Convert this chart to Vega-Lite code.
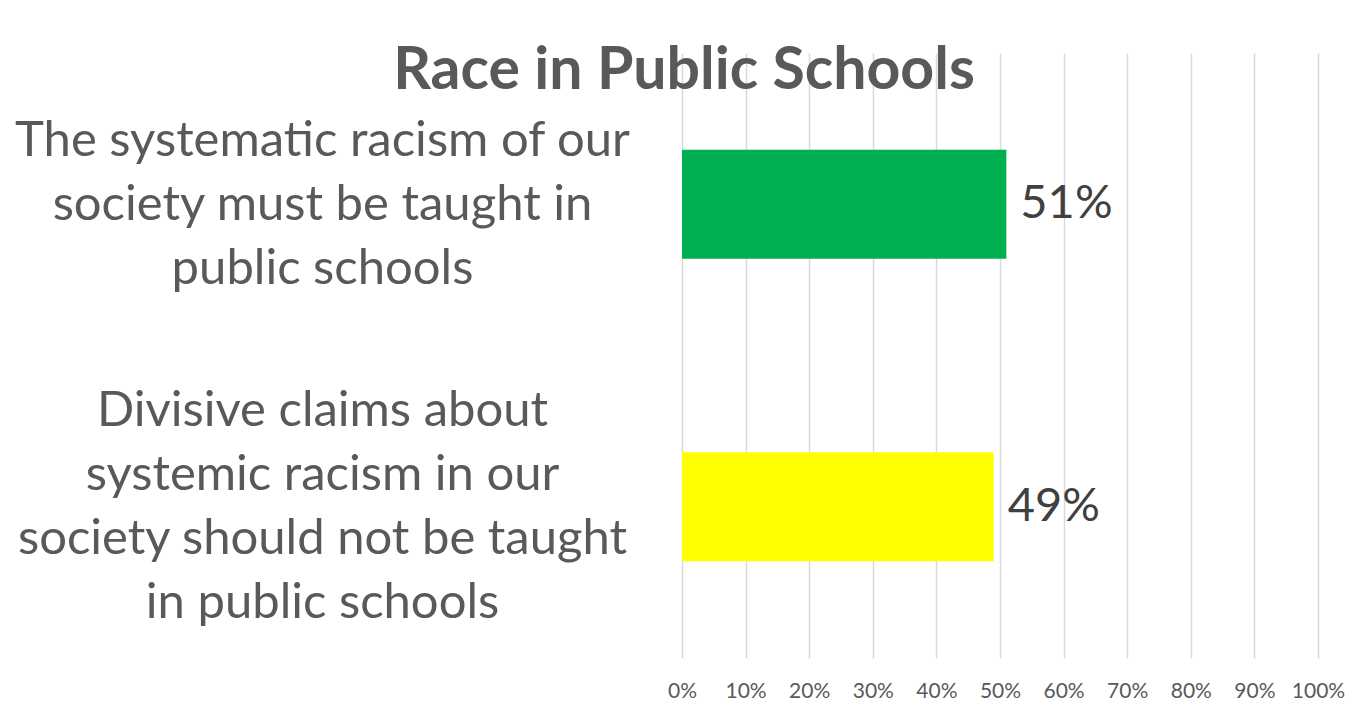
{
  "$schema": "https://vega.github.io/schema/vega-lite/v6.json",
  "autosize": {"type": "none"},
  "width": 636,
  "height": 605,
  "padding": {"left": 682, "top": 53, "right": 51, "bottom": 47},
  "background": "white",
  "config": {
    "view": {"stroke": null},
    "font": "Lato"
  },
  "title": {
    "text": "Race in Public Schools",
    "anchor": "middle",
    "frame": "group",
    "dx": -316,
    "dy": 63,
    "offset": -32,
    "baseline": "alphabetic",
    "font": "Lato",
    "fontSize": 59,
    "fontWeight": "bold",
    "color": "#595959"
  },
  "data": {
    "values": [
      {"label": "The systematic racism of our|society must be taught in|public schools", "value": 0.51, "color": "#00B050"},
      {"label": "Divisive claims about|systemic racism in our|society should not be taught|in public schools", "value": 0.49, "color": "#FFFF00"}
    ]
  },
  "encoding": {
    "y": {
      "field": "label",
      "type": "nominal",
      "sort": null,
      "scale": {"paddingInner": 0.64, "paddingOuter": 0.32},
      "axis": {
        "title": null,
        "domain": false,
        "ticks": false,
        "grid": false,
        "labelExpr": "split(datum.label, '|')",
        "labelAlign": "center",
        "labelBaseline": "middle",
        "labelOffset": {"condition": {"test": "substring(datum.value, 0, 3) == 'The'", "value": -63}, "value": -96},
        "labelPadding": 360,
        "labelLimit": 0,
        "labelFontSize": 49,
        "labelLineHeight": 64,
        "labelColor": "#595959",
        "labelFont": "Lato"
      }
    },
    "x": {
      "field": "value",
      "type": "quantitative",
      "scale": {"domain": [0, 1], "nice": false},
      "axis": {
        "title": null,
        "values": [0, 0.1, 0.2, 0.3, 0.4, 0.5, 0.6, 0.7, 0.8, 0.9, 1],
        "format": ".0%",
        "domain": false,
        "ticks": false,
        "grid": true,
        "gridColor": "#d9d9d9",
        "gridWidth": 1.5,
        "labelOverlap": false,
        "labelFlush": false,
        "labelFontSize": 21,
        "labelPadding": 22,
        "labelColor": "#595959",
        "labelFont": "Lato"
      }
    }
  },
  "layer": [
    {
      "mark": {"type": "bar"},
      "encoding": {
        "color": {"field": "color", "type": "nominal", "scale": null}
      }
    },
    {
      "mark": {"type": "text", "align": "left", "baseline": "middle", "dx": 14, "fontSize": 47, "color": "#404040", "font": "Lato"},
      "encoding": {
        "text": {"field": "value", "type": "quantitative", "format": ".0%"}
      }
    }
  ]
}
